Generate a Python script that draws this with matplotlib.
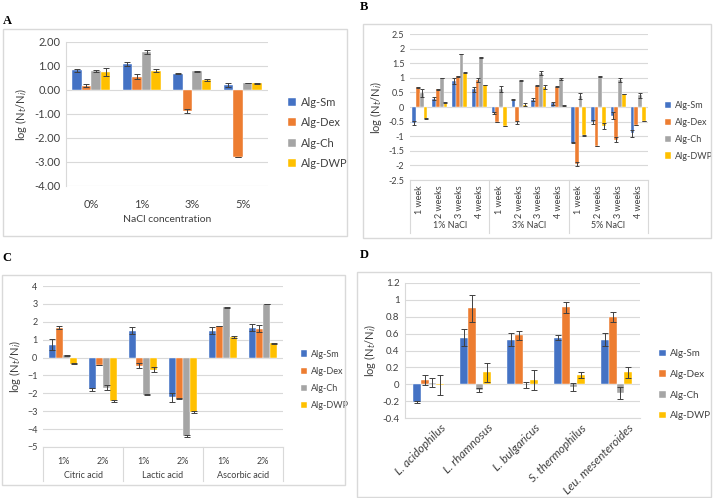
import numpy as np
import matplotlib
matplotlib.use("Agg")
import matplotlib.pyplot as plt
from matplotlib.patches import Rectangle
from matplotlib.lines import Line2D
import matplotlib.transforms as mtransforms

plt.rcParams["font.family"] = ["Lato", "DejaVu Sans"]

SERIES = ["Alg-Sm", "Alg-Dex", "Alg-Ch", "Alg-DWP"]
COLORS = ["#4472C4", "#ED7D31", "#A5A5A5", "#FFC000"]

# Panel A: NaCl concentration
a_categories = ["0%", "1%", "3%", "5%"]
a_values = [
    [0.82, 1.07, 0.68, 0.20],
    [0.18, 0.55, -0.87, -2.80],
    [0.78, 1.60, 0.79, 0.30],
    [0.75, 0.80, 0.42, 0.28],
]
a_errors = [
    [0.05, 0.08, 0.02, 0.08],
    [0.05, 0.10, 0.08, 0.01],
    [0.05, 0.08, 0.02, 0.01],
    [0.15, 0.07, 0.05, 0.02],
]

# Panel B: storage weeks at NaCl levels
b_weeks = ["1 week", "2 weeks", "3 weeks", "4 weeks"] * 3
b_groups = ["1% NaCl", "3% NaCl", "5% NaCl"]
b_values = [
    [-0.55, 0.28, 0.90, 0.60, -0.20, 0.25, 0.25, 0.12, -1.22, -0.52, -0.30, -0.90],
    [0.67, 0.60, 1.05, 0.92, -0.52, -0.53, 0.73, 0.70, -1.95, -1.33, -1.12, -0.62],
    [0.48, 1.00, 1.82, 1.70, 0.63, 0.90, 1.17, 0.97, 0.38, 1.05, 0.92, 0.40],
    [-0.40, 0.15, 1.18, 0.75, -0.65, 0.08, 0.70, 0.05, -0.97, -0.65, 0.45, -0.48],
]
b_errors = [
    [0.07, 0.05, 0.10, 0.10, 0.03, 0.01, 0.05, 0.05, 0.01, 0.06, 0.12, 0.12],
    [0.01, 0.01, 0.01, 0.06, 0.01, 0.04, 0.01, 0.03, 0.07, 0.01, 0.08, 0.01],
    [0.15, 0.01, 0.01, 0.01, 0.10, 0.01, 0.06, 0.03, 0.10, 0.01, 0.08, 0.08],
    [0.02, 0.02, 0.01, 0.01, 0.01, 0.05, 0.07, 0.01, 0.01, 0.10, 0.01, 0.01],
]

# Panel C: organic acids
c_levels = ["1%", "2%"] * 3
c_groups = ["Citric acid", "Lactic acid", "Ascorbic acid"]
c_values = [
    [0.72, -1.78, 1.50, -2.22, 1.50, 1.68],
    [1.68, -0.42, -0.45, -2.30, 1.75, 1.62],
    [0.12, -1.68, -2.08, -4.38, 2.80, 3.00],
    [-0.35, -2.43, -0.68, -3.05, 1.15, 0.80],
]
c_errors = [
    [0.30, 0.08, 0.20, 0.25, 0.20, 0.18],
    [0.06, 0.02, 0.12, 0.04, 0.01, 0.18],
    [0.02, 0.15, 0.02, 0.04, 0.01, 0.01],
    [0.02, 0.08, 0.15, 0.04, 0.05, 0.04],
]

# Panel D: bacterial strains
d_strains = ["L. acidophilus", "L. rhamnosus", "L. bulgaricus",
             "S. thermophilus", "Leu. mesenteroides"]
d_values = [
    [-0.21, 0.55, 0.53, 0.55, 0.53],
    [0.05, 0.90, 0.58, 0.91, 0.80],
    [0.02, -0.07, -0.01, -0.03, -0.10],
    [-0.01, 0.14, 0.05, 0.11, 0.14],
]
d_errors = [
    [0.01, 0.10, 0.08, 0.03, 0.08],
    [0.06, 0.16, 0.05, 0.07, 0.06],
    [0.05, 0.02, 0.04, 0.05, 0.07],
    [0.12, 0.11, 0.12, 0.03, 0.06],
]

W, H = 713, 498
GRID = "#D9D9D9"
TXT = "#404040"
YLABEL = r"log (N$_t$/N$_i$)"

fig = plt.figure(figsize=(W / 100, H / 100), dpi=100)


def px_axes(x0, y0, x1, y1):
    return fig.add_axes([x0 / W, 1 - y1 / H, (x1 - x0) / W, (y1 - y0) / H])


def panel_box(x0, y0, x1, y1, letter, lx, ly):
    fig.patches.append(Rectangle((x0 / W, 1 - y1 / H), (x1 - x0) / W, (y1 - y0) / H,
                                 transform=fig.transFigure, fill=False,
                                 edgecolor=GRID, linewidth=1.0))
    fig.text(lx / W, 1 - ly / H, letter, family="Liberation Serif",
             fontweight="bold", fontsize=9, ha="left", va="center")


def draw_bars(ax, values, errors, width, ecolor="#404040", capsize=2):
    x = np.arange(len(values[0]))
    for i, (vals, errs) in enumerate(zip(values, errors)):
        pos = x + (i - 1.5) * width
        ax.bar(pos, vals, width=width, color=COLORS[i], label=SERIES[i],
               edgecolor="white", linewidth=0.3, zorder=3)
        ax.errorbar(pos, vals, yerr=errs, fmt="none", ecolor=ecolor,
                    elinewidth=0.7, capsize=capsize, capthick=0.7, zorder=4)
    return x


def style_axes(ax, fontsize):
    ax.grid(axis="y", color=GRID, linewidth=0.8, zorder=0)
    ax.set_axisbelow(True)
    for side in ["top", "right", "bottom", "left"]:
        ax.spines[side].set_visible(False)
    ax.tick_params(axis="y", length=0, labelsize=fontsize, colors=TXT, pad=4)
    ax.tick_params(axis="x", length=0, labelsize=fontsize, colors=TXT)


def add_legend(ax, x, y, fontsize, spacing):
    ax.legend(loc="center left", bbox_to_anchor=(x / W, 1 - y / H),
              bbox_transform=fig.transFigure, frameon=False, fontsize=fontsize,
              handlelength=0.7, handleheight=0.7, handletextpad=0.4,
              labelspacing=spacing, borderaxespad=0, labelcolor=TXT)


def multi_level_axis(ax, n, groups, per_group, line_depth, group_y, fontsize):
    trans = mtransforms.blended_transform_factory(ax.transData, ax.transAxes)
    ax.plot([-0.5, n - 0.5], [0, 0], transform=trans, color=GRID,
            linewidth=0.8, clip_on=False)
    for k in range(len(groups) + 1):
        xb = k * per_group - 0.5
        ax.add_line(Line2D([xb, xb], [0, -line_depth], transform=trans,
                           color=GRID, linewidth=0.8, clip_on=False))
    for k, name in enumerate(groups):
        xc = k * per_group + (per_group - 1) / 2
        ax.text(xc, group_y, name, transform=trans, ha="center", va="center",
                fontsize=fontsize, color=TXT)


# ---- Panel A ----
panel_box(3, 29, 347, 236, "A", 3, 21)
ax_a = px_axes(66, 42, 268, 186)
xa = draw_bars(ax_a, a_values, a_errors, 0.19)
style_axes(ax_a, 8)
ax_a.spines["left"].set_visible(True)
ax_a.spines["left"].set_color(GRID)
ax_a.set_ylim(-4, 2)
ax_a.set_yticks(np.arange(-4, 2.01, 1))
ax_a.yaxis.set_major_formatter(plt.FormatStrFormatter("%.2f"))
ax_a.set_xlim(-0.5, len(a_categories) - 0.5)
ax_a.set_xticks(xa)
ax_a.set_xticklabels(a_categories)
ax_a.tick_params(axis="x", pad=9)
ax_a.set_xlabel("NaCl concentration", fontsize=7.5, color=TXT, labelpad=4)
ax_a.set_ylabel(YLABEL, fontsize=8, color=TXT, labelpad=4)
add_legend(ax_a, 284, 133, 8, 0.85)

# ---- Panel B ----
panel_box(363, 24, 711, 238, "B", 360, 7)
ax_b = px_axes(410, 34, 648, 180)
xb = draw_bars(ax_b, b_values, b_errors, 0.19, capsize=1.5)
style_axes(ax_b, 6.5)
ax_b.set_ylim(-2.5, 2.5)
ax_b.set_yticks(np.arange(-2.5, 2.51, 0.5))
ax_b.yaxis.set_major_formatter(plt.FuncFormatter(lambda v, p: f"{v:g}"))
ax_b.set_xlim(-0.5, len(b_weeks) - 0.5)
ax_b.set_xticks(xb)
ax_b.set_xticklabels(b_weeks, rotation=90, va="top", ha="center")
ax_b.tick_params(axis="x", pad=4)
ax_b.set_ylabel(YLABEL, fontsize=8, color=TXT, labelpad=3)
multi_level_axis(ax_b, len(b_weeks), b_groups, 4, 0.36, -0.31, 6.5)
add_legend(ax_b, 661, 131, 6.5, 0.85)

# ---- Panel C ----
panel_box(2, 275, 345, 485, "C", 2, 258)
ax_c = px_axes(43, 286, 283, 447)
xc = draw_bars(ax_c, c_values, c_errors, 0.18)
style_axes(ax_c, 6.5)
ax_c.set_ylim(-5, 4)
ax_c.set_yticks(np.arange(-5, 4.01, 1))
ax_c.set_xlim(-0.5, len(c_levels) - 0.5)
ax_c.set_xticks(xc)
ax_c.set_xticklabels(c_levels)
ax_c.tick_params(axis="x", pad=7)
ax_c.set_ylabel(YLABEL, fontsize=8, color=TXT, labelpad=3)
multi_level_axis(ax_c, len(c_levels), c_groups, 2, 0.21, -0.175, 6.5)
add_legend(ax_c, 297, 380, 6.5, 0.9)

# ---- Panel D ----
panel_box(357, 272, 711, 497, "D", 360, 255)
ax_d = px_axes(405, 283, 640, 418)
xd = draw_bars(ax_d, d_values, d_errors, 0.17)
style_axes(ax_d, 7)
ax_d.spines["left"].set_visible(True)
ax_d.spines["left"].set_color(GRID)
ax_d.spines["bottom"].set_visible(True)
ax_d.spines["bottom"].set_color(GRID)
ax_d.set_ylim(-0.4, 1.2)
ax_d.set_yticks(np.arange(-0.4, 1.21, 0.2))
ax_d.yaxis.set_major_formatter(plt.FuncFormatter(lambda v, p: f"{round(v, 1):g}"))
ax_d.set_xlim(-0.5, len(d_strains) - 0.5)
ax_d.set_xticks(xd + 0.25)
ax_d.set_xticklabels(d_strains, rotation=45, ha="right", rotation_mode="anchor",
                     style="italic", fontsize=8.5)
ax_d.tick_params(axis="x", pad=3)
ax_d.set_ylabel(YLABEL, fontsize=8, color=TXT, labelpad=3)
add_legend(ax_d, 655, 385, 7, 1.2)

fig.savefig("out.png", dpi=100)
